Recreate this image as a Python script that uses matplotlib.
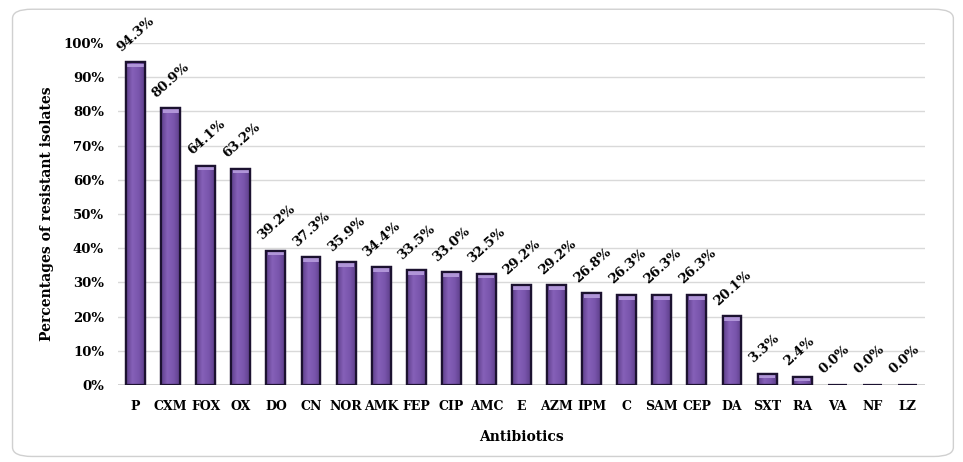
import numpy as np
import matplotlib.pyplot as plt
from matplotlib.patches import FancyBboxPatch
from matplotlib.colors import LinearSegmentedColormap

antibiotics = ['P', 'CXM', 'FOX', 'OX', 'DO', 'CN', 'NOR', 'AMK', 'FEP', 'CIP', 'AMC', 'E',
               'AZM', 'IPM', 'C', 'SAM', 'CEP', 'DA', 'SXT', 'RA', 'VA', 'NF', 'LZ']
resistance = [94.3, 80.9, 64.1, 63.2, 39.2, 37.3, 35.9, 34.4, 33.5, 33.0, 32.5, 29.2,
              29.2, 26.8, 26.3, 26.3, 26.3, 20.1, 3.3, 2.4, 0.0, 0.0, 0.0]
yticks = [0, 10, 20, 30, 40, 50, 60, 70, 80, 90, 100]

plt.rcParams['font.family'] = ['DejaVu Serif']
plt.rcParams['font.weight'] = 'bold'

fig = plt.figure(figsize=(9.63, 4.62), dpi=100)
fig.patches.append(FancyBboxPatch((0.013, 0.012), 0.977, 0.968, boxstyle='round,pad=0,rounding_size=0.02',
                                  transform=fig.transFigure, fc='none', ec='#d0d0d0', lw=1.0, zorder=-1))
ax = fig.add_axes([118/963, 1-385/462, 807/963, 342/462])
ax.patch.set_alpha(0)

x = np.arange(len(antibiotics))
bars = ax.bar(x, resistance, width=0.54, color='#7750a8', edgecolor='#1c1230', linewidth=1.6, zorder=3)

# horizontal gradient inside each bar (darker at the sides, lighter in the middle)
cmap = LinearSegmentedColormap.from_list('purp', ['#5e3f8a', '#8560b8', '#7a56ad', '#5e3f8a'])
grad = np.linspace(0, 1, 64).reshape(1, -1)
for b in bars:
    h = b.get_height()
    if h <= 0:
        continue
    x0 = b.get_x()
    w = b.get_width()
    im = ax.imshow(grad, cmap=cmap, aspect='auto', extent=(x0, x0 + w, 0, h), zorder=3.5)
    im.set_clip_path(b)
    # light cap at top
    ax.bar(x0 + w / 2, min(h, 1.0), bottom=max(h - 1.3, 0), width=w * 0.85,
           color='#b095d8', linewidth=0, zorder=4)
    ax.bar(x0 + w / 2, h, width=w, fill=False, edgecolor='#1c1230', linewidth=1.6, zorder=5)

for xi, v in zip(x, resistance):
    ax.annotate(f'{v:.1f}%', (xi - 0.34, v), xytext=(0, 6), textcoords='offset points',
                rotation=42, rotation_mode='anchor', ha='left', va='bottom',
                fontsize=9.5, fontweight='bold', annotation_clip=False)

ax.set_xlim(-0.5, len(antibiotics) - 0.5)
ax.set_ylim(0, 100)
ax.set_yticks(yticks)
ax.set_yticklabels([f'{t}%' for t in yticks], fontsize=9.5, fontweight='bold')
ax.set_xticks(x)
ax.set_xticklabels(antibiotics, fontsize=9, fontweight='bold')
ax.tick_params(length=0, pad=11)
ax.tick_params(axis='y', pad=10)
ax.grid(axis='y', color='#d9d9d9', lw=1.0, zorder=0)
ax.axhline(0, color='#c8c8c8', lw=1.2, zorder=1)
for s in ax.spines.values():
    s.set_visible(False)
ax.set_ylabel('Percentages of resistant isolates', fontsize=10, fontweight='bold', labelpad=7)
ax.set_xlabel('Antibiotics', fontsize=10, fontweight='bold', labelpad=12)

fig.savefig('out.png', dpi=100)
